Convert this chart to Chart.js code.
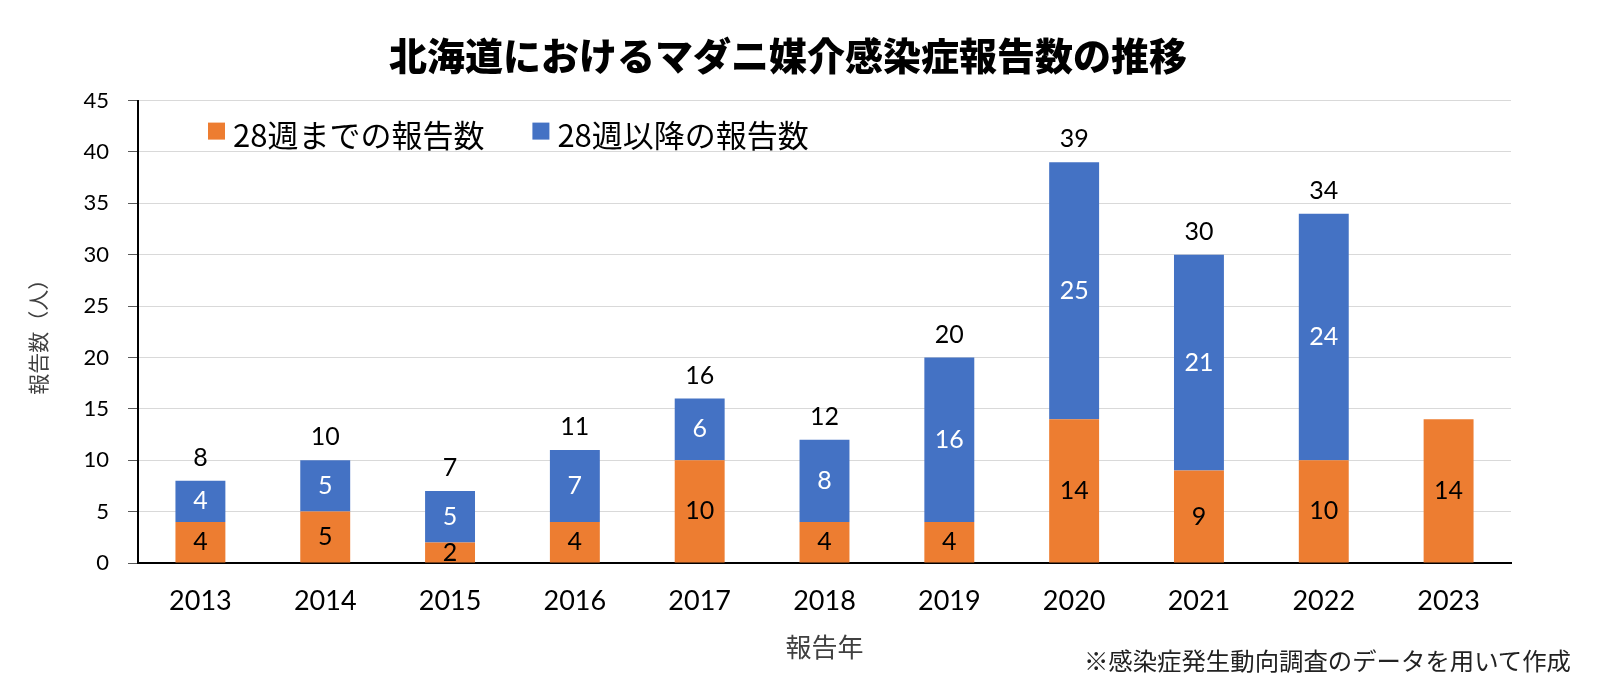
<!DOCTYPE html>
<html lang="ja">
<head>
<meta charset="utf-8">
<title>北海道におけるマダニ媒介感染症報告数の推移</title>
<script src="https://cdn.jsdelivr.net/npm/chart.js@4.4.1/dist/chart.umd.min.js"></script>
<style>
    html, body { margin: 0; padding: 0; background: #fff; }
    #wrap { position: relative; width: 1605px; height: 690px; }
    #note {
        position: absolute;
        right: 34px;
        top: 647px;
        font: 24.4px/26px "Noto Sans CJK JP", sans-serif;
        color: #222;
        white-space: nowrap;
    }
</style>
</head>
<body>
<div id="wrap">
    <canvas id="chart" width="1605" height="690"></canvas>
    <div id="note">※感染症発生動向調査のデータを用いて作成</div>
</div>
<script>
const years = ['2013', '2014', '2015', '2016', '2017', '2018', '2019', '2020', '2021', '2022', '2023'];
const before28 = [4, 5, 2, 4, 10, 4, 4, 14, 9, 10, 14];
const after28 = [4, 5, 5, 7, 6, 8, 16, 25, 21, 24, null];
const totals = [8, 10, 7, 11, 16, 12, 20, 39, 30, 34, null];
const yTicks = [0, 5, 10, 15, 20, 25, 30, 35, 40, 45];

const numFont = 'Lato, "Noto Sans CJK JP", sans-serif';
const jpFont = '"Noto Sans CJK JP", sans-serif';
const labelColors = ['#000', '#fff'];

// value labels inside each segment + totals above the stack
const barLabels = {
    id: 'barLabels',
    afterDatasetsDraw(chart) {
        const ctx = chart.ctx;
        ctx.save();
        ctx.font = '25px ' + numFont;
        ctx.textAlign = 'center';
        ctx.textBaseline = 'middle';
        chart.data.datasets.forEach((ds, di) => {
            const meta = chart.getDatasetMeta(di);
            meta.data.forEach((bar, i) => {
                const v = ds.data[i];
                if (v == null) return;
                ctx.fillStyle = labelColors[di];
                ctx.fillText(v, bar.x, (bar.y + bar.base) / 2);
            });
        });
        const topMeta = chart.getDatasetMeta(1);
        totals.forEach((t, i) => {
            if (t == null) return;
            const bar = topMeta.data[i];
            ctx.fillStyle = '#000';
            ctx.fillText(t, bar.x, bar.y - 23);
        });
        ctx.restore();
    }
};

// legend in one row inside the plot area, top left
const insideLegend = {
    id: 'insideLegend',
    afterDraw(chart) {
        const ctx = chart.ctx;
        const area = chart.chartArea;
        ctx.save();
        ctx.font = '31px ' + jpFont;
        ctx.textAlign = 'left';
        ctx.textBaseline = 'middle';
        let x = area.left + 70;
        const y = area.top + 35;
        chart.data.datasets.forEach(ds => {
            ctx.fillStyle = ds.backgroundColor;
            ctx.fillRect(x, y - 13, 17, 17);
            ctx.fillStyle = '#000';
            ctx.fillText(ds.label, x + 25, y);
            x += 25 + ctx.measureText(ds.label).width + 48;
        });
        ctx.restore();
    }
};

new Chart(document.getElementById('chart'), {
    type: 'bar',
    data: {
        labels: years,
        datasets: [{
            label: '28週までの報告数',
            data: before28,
            backgroundColor: '#ED7D31',
            barPercentage: 0.4,
            categoryPercentage: 1
        }, {
            label: '28週以降の報告数',
            data: after28,
            backgroundColor: '#4472C4',
            barPercentage: 0.4,
            categoryPercentage: 1
        }]
    },
    options: {
        responsive: false,
        animation: false,
        layout: {
            padding: { left: 65, right: 94, top: 8, bottom: 22 }
        },
        scales: {
            x: {
                stacked: true,
                z: 1,
                afterFit: scale => { scale.height = 105; },
                grid: { display: false, drawTicks: false },
                border: { display: true, color: '#000', width: 2 },
                ticks: {
                    color: '#000',
                    padding: 22,
                    font: { family: numFont, size: 27 }
                },
                title: {
                    display: true,
                    text: '報告年',
                    color: '#404040',
                    font: { family: jpFont, size: 26 },
                    padding: { top: 15, bottom: 5 }
                }
            },
            y: {
                stacked: true,
                min: 0,
                max: 45,
                afterBuildTicks: scale => {
                    scale.ticks = yTicks.map(v => ({ value: v }));
                },
                afterFit: scale => { scale.width = 73; },
                grid: {
                    color: '#d9d9d9',
                    lineWidth: 1,
                    tickColor: '#595959',
                    tickLength: 10
                },
                border: { display: true, color: '#000', width: 2 },
                ticks: {
                    color: '#000',
                    padding: 19,
                    font: { family: numFont, size: 22 }
                },
                title: {
                    display: true,
                    text: '報告数（人）',
                    color: '#404040',
                    font: { family: jpFont, size: 21 },
                    padding: { top: -40, bottom: 0 }
                }
            }
        },
        plugins: {
            title: {
                display: true,
                text: '北海道におけるマダニ媒介感染症報告数の推移',
                color: '#000',
                font: { family: jpFont, size: 38, weight: '900' },
                padding: { top: 25, bottom: 22 }
            },
            legend: { display: false },
            tooltip: { enabled: false }
        }
    },
    plugins: [barLabels, insideLegend]
});
</script>
</body>
</html>
